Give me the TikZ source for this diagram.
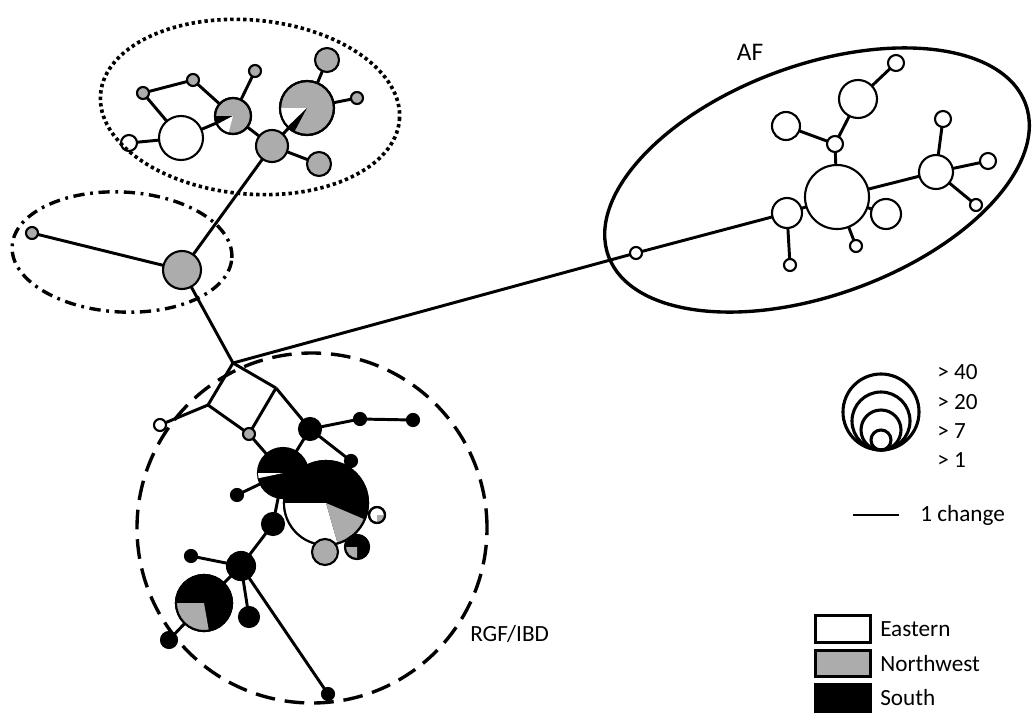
\documentclass[tikz,border=0pt]{standalone}
\usepackage{fontspec}
\setmainfont{Carlito}
\usepackage{xcolor}
\usepackage{tikz}
\usetikzlibrary{backgrounds}
\definecolor{nwgray}{RGB}{172,172,172}
\tikzstyle{hap} = [circle, draw=black, line width=1.5pt, inner sep=0pt, outer sep=0pt]
\tikzstyle{east} = [hap, fill=white]
\tikzstyle{nwest} = [hap, fill=nwgray]
\tikzstyle{south} = [hap, fill=black]
\tikzstyle{ring} = [circle, draw=black, line width=2.2pt, inner sep=0pt]
\tikzstyle{link} = [line width=2.1pt]
\tikzstyle{lab} = [inner sep=0pt, anchor=west]
\tikzstyle{legbox} = [rectangle, draw=black, line width=2pt, minimum width=1.375cm, minimum height=0.66cm]
\tikzset{rad/.style={minimum size=#1*0.05cm}}
% wedge of a pie node: node, radius, start, end, colour
\newcommand{\hapslice}[5]{\fill[#5] (#1.center) -- ++(#3:#2) arc[start angle=#3, end angle=#4, radius=#2] -- cycle;}
\newcommand{\haprim}[2]{\draw[line width=1.5pt] (#1.center) circle[radius=#2];}

\begin{document}
\begin{tikzpicture}[x=0.025cm, y=0.025cm, every node/.style={font=\fontsize{16.5}{19}\selectfont}]
  \useasboundingbox (0,0) rectangle (1032,-712);

  % Northwest cluster
  \node[east, rad=22] (w1) at (181,-138) {};
  \node[east, rad=8] (w2) at (129,-143) {};
  \node[nwest, rad=6] (g1) at (143,-93) {};
  \node[nwest, rad=6] (g2) at (193,-80) {};
  \node[nwest, rad=18] (pa) at (233,-116) {};
  \node[nwest, rad=6] (g3) at (255,-71) {};
  \node[nwest, rad=16] (g4) at (272,-146) {};
  \node[nwest, rad=27] (pc) at (307,-108) {};
  \node[nwest, rad=12] (g5) at (327,-60) {};
  \node[nwest, rad=6] (g6) at (357,-98) {};
  \node[nwest, rad=12] (g7) at (319,-164) {};
  \hapslice{pa}{18}{180}{208}{black}
  \hapslice{pa}{18}{208}{255}{white}
  \haprim{pa}{18}
  \hapslice{pc}{27}{180}{224}{white}
  \hapslice{pc}{27}{224}{242}{black}
  \haprim{pc}{27}

  % middle group
  \node[nwest, rad=19] (g8) at (182,-270) {};
  \node[nwest, rad=6] (g9) at (32,-233) {};
  \coordinate (j1) at (233,-363);

  % AF cluster
  \node[east, rad=6] (a1) at (636,-253) {};
  \node[east, rad=15] (a2) at (787,-213) {};
  \node[east, rad=6] (a3) at (790,-265) {};
  \node[east, rad=32] (a4) at (837,-197) {};
  \node[east, rad=6] (a5) at (856,-246) {};
  \node[east, rad=15] (a6) at (886,-214) {};
  \node[east, rad=8] (a7) at (835,-144) {};
  \node[east, rad=14] (a8) at (786,-126) {};
  \node[east, rad=19] (a9) at (858,-99) {};
  \node[east, rad=8] (a10) at (896,-63) {};
  \node[east, rad=17] (a11) at (936,-172) {};
  \node[east, rad=8] (a12) at (943,-119) {};
  \node[east, rad=8] (a13) at (988,-161) {};
  \node[east, rad=6] (a14) at (976,-205) {};

  % RGF/IBD cluster
  \coordinate (j2) at (208,-405);
  \coordinate (j3) at (276,-388);
  \node[east, rad=6] (b1) at (160,-425) {};
  \node[nwest, rad=6] (b2) at (249,-434) {};
  \node[south, rad=11] (b3) at (310,-429) {};
  \node[south, rad=6] (b4) at (360,-419) {};
  \node[south, rad=6] (b5) at (413,-420) {};
  \node[south, rad=6] (b6) at (351,-461) {};
  \node[south, rad=25] (p1) at (283,-473) {};
  \hapslice{p1}{25}{180}{192}{white}
  \node[south, rad=6] (b7) at (237,-495) {};
  \node[south, rad=11] (b9) at (273,-524) {};
  \node[south, rad=42] (p2) at (326,-503) {};
  \hapslice{p2}{42}{180}{286}{white}
  \hapslice{p2}{42}{286}{337}{nwgray}
  \haprim{p2}{42}
  \node[east, rad=8] (p3) at (377,-515) {};
  \hapslice{p3}{8}{270}{360}{nwgray}
  \haprim{p3}{8}
  \node[nwest, rad=13] (b8) at (325,-552) {};
  \node[south, rad=12] (p4) at (357,-547) {};
  \hapslice{p4}{12}{180}{270}{nwgray}
  \haprim{p4}{12}
  \node[south, rad=14] (b10) at (241,-566) {};
  \node[south, rad=6] (b11) at (191,-556) {};
  \node[south, rad=28] (p5) at (204,-603) {};
  \hapslice{p5}{28}{180}{280}{nwgray}
  \haprim{p5}{28}
  \node[south, rad=8] (b12) at (169,-640) {};
  \node[south, rad=10] (b13) at (249,-617) {};
  \node[south, rad=6] (b14) at (328,-694) {};

  % links
  \begin{scope}[on background layer]
    \draw[link] (g1) -- (g2);
    \draw[link] (g2) -- (pa);
    \draw[link] (g1) -- (w1);
    \draw[link] (w2) -- (w1);
    \draw[link] (w1) -- (pa);
    \draw[link] (pa) -- (g3);
    \draw[link] (pa) -- (g4);
    \draw[link] (g4) -- (pc);
    \draw[link] (pc) -- (g5);
    \draw[link] (pc) -- (g6);
    \draw[link] (g4) -- (g7);
    \draw[link] (g4) -- (g8);
    \draw[link] (g8) -- (g9);
    \draw[link] (g8) -- (j1);
    \draw[link] (j1) -- (a1);
    \draw[link] (a1) -- (a2);
    \draw[link] (a2) -- (a3);
    \draw[link] (a2) -- (a4);
    \draw[link] (a4) -- (a5);
    \draw[link] (a4) -- (a6);
    \draw[link] (a4) -- (a7);
    \draw[link] (a7) -- (a8);
    \draw[link] (a7) -- (a9);
    \draw[link] (a9) -- (a10);
    \draw[link] (a4) -- (a11);
    \draw[link] (a11) -- (a12);
    \draw[link] (a11) -- (a13);
    \draw[link] (a11) -- (a14);
    \draw[link] (j1) -- (j2);
    \draw[link] (j2) -- (b1);
    \draw[link] (j2) -- (b2);
    \draw[link] (j1) -- (j3);
    \draw[link] (j3) -- (b2);
    \draw[link] (j3) -- (b3);
    \draw[link] (b3) -- (b4);
    \draw[link] (b4) -- (b5);
    \draw[link] (b3) -- (b6);
    \draw[link] (b3) -- (p1);
    \draw[link] (b2) -- (p1);
    \draw[link] (p1) -- (b7);
    \draw[link] (p1) -- (b9);
    \draw[link] (p1) -- (p2);
    \draw[link] (p2) -- (p3);
    \draw[link] (p2) -- (b8);
    \draw[link] (p2) -- (p4);
    \draw[link] (b9) -- (b10);
    \draw[link] (b10) -- (b11);
    \draw[link] (b10) -- (p5);
    \draw[link] (p5) -- (b12);
    \draw[link] (b10) -- (b13);
    \draw[link] (b10) -- (b14);
  \end{scope}

  % group outlines
  \draw[line width=2.6pt, dash pattern=on 2.4pt off 2.2pt, rotate around={-5:(250,-107)}] (250,-107) ellipse [x radius=150, y radius=87];
  \draw[line width=2.4pt, dash pattern=on 8pt off 4pt on 2pt off 4pt, rotate around={-3:(122,-252)}] (122,-252) ellipse [x radius=110, y radius=60];
  \draw[line width=2.4pt, rotate around={20:(817,-180)}] (817,-180) ellipse [x radius=222, y radius=115];
  \draw[line width=2.4pt, dash pattern=on 14pt off 7pt] (312,-528) circle [radius=175];
  \node[font=\fontsize{18}{21}\selectfont] (lAF) at (750,-52) {AF};
  \node[lab] (lRGF) at (470,-634) {RGF/IBD};

  % size legend
  \node[ring, rad=38] (s40) at (881,-412) {};
  \node[ring, rad=29] (s20) at (881,-421) {};
  \node[ring, rad=20] (s7) at (881,-430) {};
  \node[ring, rad=10] (s1) at (881,-440) {};
  \node[lab] (t40) at (937,-372) {> 40};
  \node[lab] (t20) at (937,-402) {> 20};
  \node[lab] (t7) at (937,-431) {> 7};
  \node[lab] (t1) at (937,-460) {> 1};
  \coordinate (sc1) at (853,-515);
  \coordinate (sc2) at (899,-515);
  \draw[link] (sc1) -- (sc2);
  \node[lab] (tsc) at (920,-515) {1 change};

  % colour legend
  \node[legbox, fill=white] (kE) at (843,-629) {};
  \node[legbox, fill=nwgray] (kN) at (843,-663.5) {};
  \node[legbox, fill=black] (kS) at (843,-698) {};
  \node[lab] (tE) at (880,-629) {Eastern};
  \node[lab] (tN) at (880,-663.5) {Northwest};
  \node[lab] (tS) at (880,-698) {South};
\end{tikzpicture}
\end{document}
